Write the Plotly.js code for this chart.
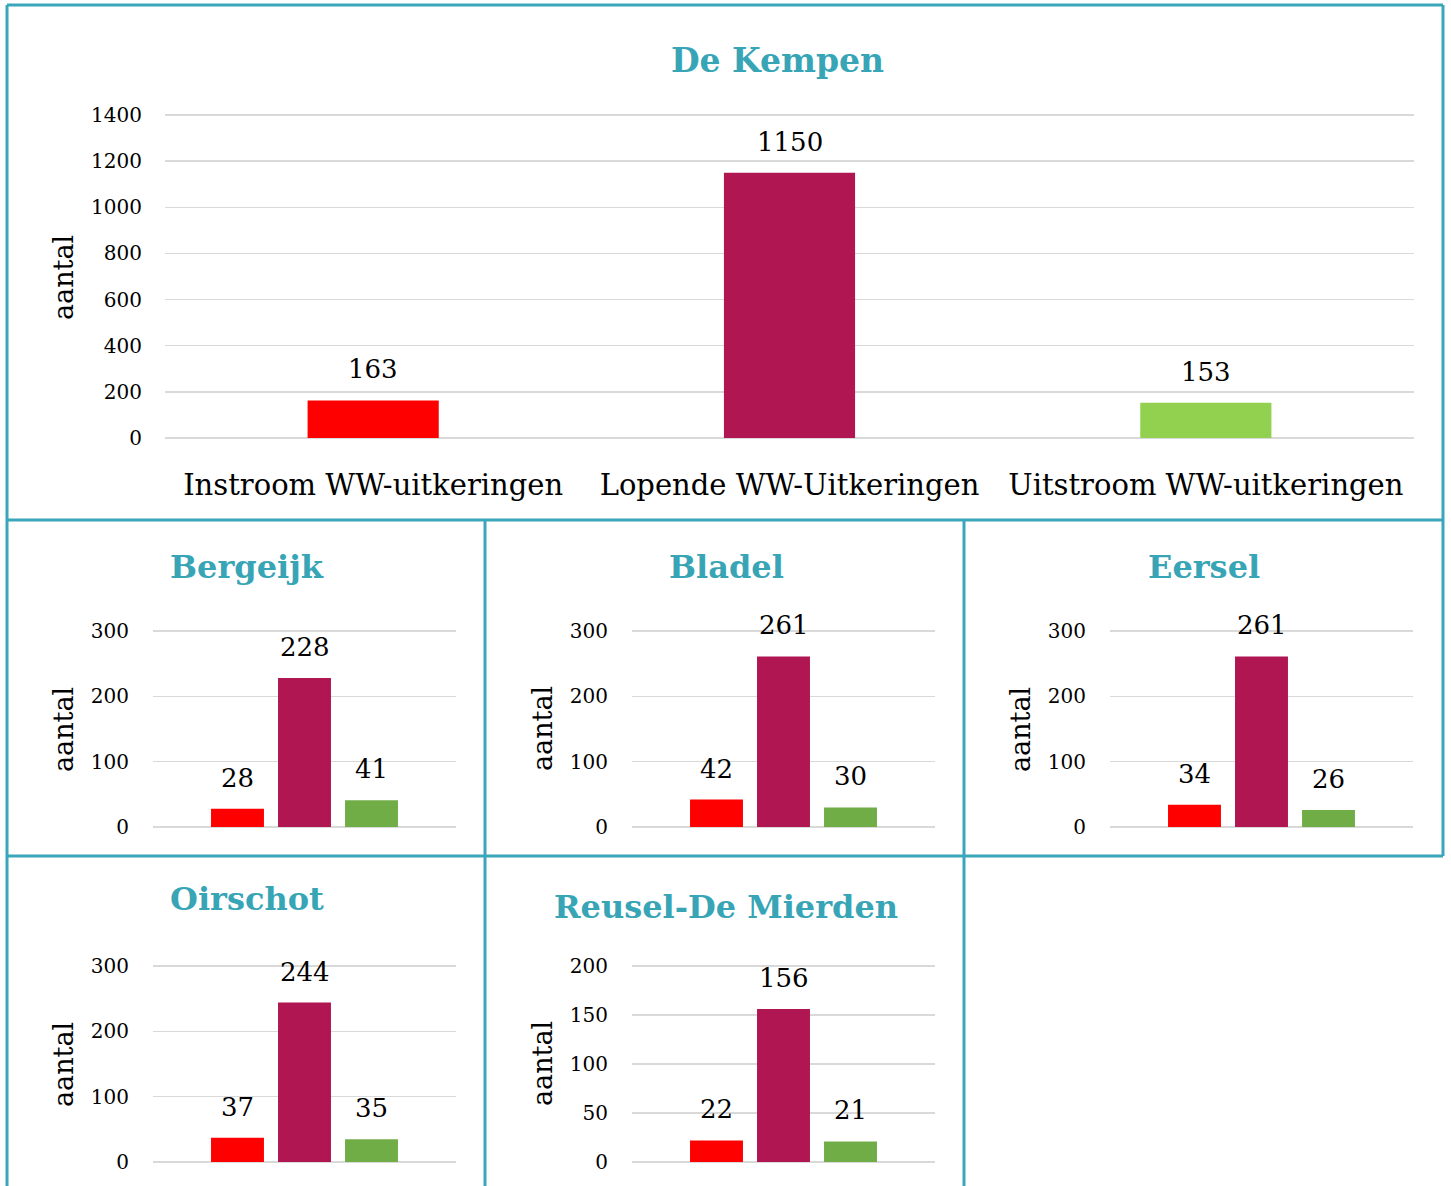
<!DOCTYPE html>
<html>
<head>
<meta charset="utf-8">
<script src="https://cdn.plot.ly/plotly-3.0.1.min.js"></script>
<style>
  html, body { margin: 0; padding: 0; background: #ffffff; }
  #chart { width: 1451px; height: 1186px; }
</style>
</head>
<body>
<div id="chart"></div>
<script>
// ---------- DATA ----------
const categories = ['Instroom WW-uitkeringen', 'Lopende WW-Uitkeringen', 'Uitstroom WW-uitkeringen'];
const kempenValues = [163, 1150, 153];
const bergeijkValues = [28, 228, 41];
const bladelValues = [42, 261, 30];
const eerselValues = [34, 261, 26];
const oirschotValues = [37, 244, 35];
const reuselValues = [22, 156, 21];
const mainTitle = 'De Kempen';
const panelNames = ['Bergeijk', 'Bladel', 'Eersel', 'Oirschot', 'Reusel-De Mierden'];
const yTitle = 'aantal';

// ---------- STYLE / LAYOUT HELPERS ----------
const W = 1451, H = 1186;
const px = v => v / W;
const py = v => 1 - v / H;
const FONT = 'DejaVu Serif, Liberation Serif, serif';
const TEAL = '#37A5B6';
const BORDER = '#3AA6B9';
const GRID = '#D9D9D9';
const colorsTop = ['#FF0000', '#B01651', '#92D050'];
const colorsSmall = ['#FF0000', '#B01651', '#70AD47'];
const EXTRA = 4; // px of headroom so the top gridline is drawn

const smallSpecs = [
  { name: panelNames[0], values: bergeijkValues, dx: 0,   row: 0, ymax: 300, dtick: 100, titleY: 567 },
  { name: panelNames[1], values: bladelValues,   dx: 479, row: 0, ymax: 300, dtick: 100, titleY: 567 },
  { name: panelNames[2], values: eerselValues,   dx: 957, row: 0, ymax: 300, dtick: 100, titleY: 567 },
  { name: panelNames[3], values: oirschotValues, dx: 0,   row: 1, ymax: 300, dtick: 100, titleY: 899 },
  { name: panelNames[4], values: reuselValues,   dx: 479, row: 1, ymax: 200, dtick: 50,  titleY: 907 }
];

const data = [];
const annotations = [];
const layout = {
  width: W, height: H,
  margin: { l: 0, r: 0, t: 0, b: 0 },
  paper_bgcolor: '#ffffff',
  plot_bgcolor: 'rgba(0,0,0,0)',
  showlegend: false,
  font: { family: FONT, color: '#000000' },
  annotations: annotations,
  shapes: []
};

const LABEL_SHIFT = 14;

// ---------- TOP PANEL ----------
const topT = 115, topB = 438;
data.push({
  type: 'bar', x: categories, y: kempenValues,
  marker: { color: colorsTop },
  xaxis: 'x', yaxis: 'y', hoverinfo: 'none'
});
layout.xaxis = {
  domain: [px(165), px(1414)], anchor: 'y',
  type: 'category', showgrid: false, zeroline: false, showline: false,
  ticks: 'outside', ticklen: 21, tickcolor: 'rgba(0,0,0,0)',
  tickfont: { family: FONT, size: 29, color: '#000' }
};
layout.yaxis = {
  domain: [py(topB), py(topT - EXTRA)], anchor: 'x',
  range: [0, 1400 * (topB - topT + EXTRA) / (topB - topT)], dtick: 200, tick0: 0,
  showgrid: true, gridcolor: GRID, gridwidth: 1.5,
  zeroline: true, zerolinecolor: GRID, zerolinewidth: 1.5, showline: false,
  ticks: 'outside', ticklen: 18, tickcolor: 'rgba(0,0,0,0)',
  tickfont: { family: FONT, size: 20, color: '#000' }
};
layout.bargap = 0.685;
kempenValues.forEach((v, i) => annotations.push({
  xref: 'x', yref: 'y', x: categories[i], y: v, text: String(v),
  showarrow: false, yanchor: 'bottom', yshift: LABEL_SHIFT,
  font: { family: FONT, size: 26, color: '#000' }
}));
annotations.push({
  xref: 'paper', yref: 'paper', x: px(778), y: py(60), text: mainTitle,
  showarrow: false, xanchor: 'center', yanchor: 'middle',
  font: { family: FONT, size: 33, color: TEAL, weight: 'bold' }
});
annotations.push({
  xref: 'paper', yref: 'paper', x: px(63), y: py(277), text: yTitle,
  showarrow: false, textangle: -90, xanchor: 'center', yanchor: 'middle',
  font: { family: FONT, size: 27, color: '#000' }
});

// ---------- SMALL PANELS ----------
smallSpecs.forEach((s, k) => {
  const n = k + 2;
  const xa = 'x' + n, ya = 'y' + n;
  const top = s.row === 0 ? 631 : 966;
  const bot = s.row === 0 ? 827 : 1162;
  data.push({
    type: 'bar', x: categories, y: s.values,
    marker: { color: colorsSmall },
    xaxis: xa, yaxis: ya, hoverinfo: 'none',
    width: 0.79
  });
  layout['xaxis' + n] = {
    domain: [px(153 + s.dx), px(456 + s.dx)], anchor: ya,
    type: 'category', range: [-1.261, 3.261],
    showgrid: false, zeroline: false, showline: false, showticklabels: false, ticks: ''
  };
  layout['yaxis' + n] = {
    domain: [py(bot), py(top - EXTRA)], anchor: xa,
    range: [0, s.ymax * (bot - top + EXTRA) / (bot - top)], dtick: s.dtick, tick0: 0,
    showgrid: true, gridcolor: GRID, gridwidth: 1.5,
    zeroline: true, zerolinecolor: GRID, zerolinewidth: 1.5, showline: false,
    ticks: 'outside', ticklen: 19, tickcolor: 'rgba(0,0,0,0)',
    tickfont: { family: FONT, size: 20, color: '#000' }
  };
  s.values.forEach((v, i) => annotations.push({
    xref: xa, yref: ya, x: categories[i], y: v, text: String(v),
    showarrow: false, yanchor: 'bottom', yshift: LABEL_SHIFT,
    font: { family: FONT, size: 26, color: '#000' }
  }));
  annotations.push({
    xref: 'paper', yref: 'paper', x: px(247 + s.dx), y: py(s.titleY), text: s.name,
    showarrow: false, xanchor: 'center', yanchor: 'middle',
    font: { family: FONT, size: 32, color: TEAL, weight: 'bold' }
  });
  annotations.push({
    xref: 'paper', yref: 'paper', x: px(63 + s.dx), y: py((top + bot) / 2), text: yTitle,
    showarrow: false, textangle: -90, xanchor: 'center', yanchor: 'middle',
    font: { family: FONT, size: 27, color: '#000' }
  });
});

// ---------- BORDERS ----------
const line = (x0, y0, x1, y1) => ({
  type: 'line', xref: 'paper', yref: 'paper',
  x0: px(x0), y0: py(y0), x1: px(x1), y1: py(y1),
  line: { color: BORDER, width: 3 }
});
layout.shapes.push(
  line(7, 5, 1443, 5),
  line(7, 5, 7, 1186),
  line(1443, 5, 1443, 856),
  line(7, 520, 1443, 520),
  line(7, 856, 1443, 856),
  line(485, 520, 485, 1186),
  line(964, 520, 964, 1186)
);

Plotly.newPlot('chart', data, layout, { displayModeBar: false, staticPlot: true });
</script>
</body>
</html>
